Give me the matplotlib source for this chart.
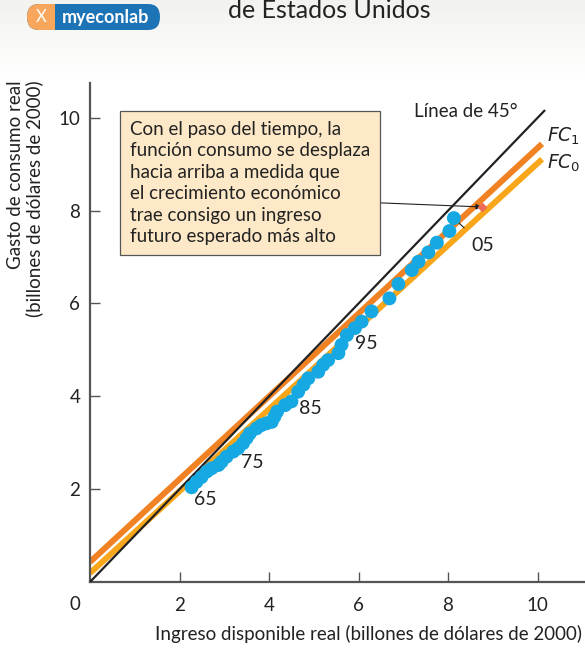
import numpy as np
import matplotlib
matplotlib.use("Agg")
import matplotlib.pyplot as plt
from matplotlib.patches import FancyBboxPatch, Rectangle

plt.rcParams['font.family'] = ['Lato', 'DejaVu Sans']

# ingreso disponible real vs gasto de consumo real, 1965-2005 (billones de dolares de 2000)
ingreso = [2.27, 2.38, 2.49, 2.61, 2.72, 2.87, 2.94, 3.05, 3.20, 3.31, 3.42, 3.50, 3.57, 3.72,
           3.83, 3.95, 4.06, 4.12, 4.18, 4.36, 4.50, 4.65, 4.77, 4.88, 5.10, 5.21, 5.32, 5.55,
           5.62, 5.74, 5.92, 6.07, 6.29, 6.69, 6.89, 7.19, 7.34, 7.56, 7.75, 8.03, 8.13]
consumo = [2.04, 2.16, 2.26, 2.38, 2.45, 2.52, 2.59, 2.70, 2.81, 2.88, 2.99, 3.10, 3.20, 3.31,
           3.38, 3.42, 3.45, 3.56, 3.67, 3.81, 3.89, 4.10, 4.25, 4.39, 4.53, 4.68, 4.78, 4.93,
           5.11, 5.32, 5.47, 5.61, 5.83, 6.11, 6.42, 6.72, 6.90, 7.10, 7.31, 7.56, 7.84]
anios = list(range(1965, 2006))
etiquetas_anio = ["65", "75", "85", "95", "05"]

# funciones consumo (intercepto, pendiente) y linea de 45 grados
fc0 = (0.19, 0.883)
fc1 = (0.43, 0.892)
x_fc = [0, 10.1]
x_45 = [0, 10.15]

xticks = [2, 4, 6, 8, 10]
yticks = [2, 4, 6, 8, 10]

texto_caja = ("Con el paso del tiempo, la\nfunción consumo se desplaza\nhacia arriba a medida que\n"
              "el crecimiento económico\ntrae consigo un ingreso\nfuturo esperado más alto")

fig = plt.figure(figsize=(5.85, 6.48), dpi=100)

# banda gris de cabecera
hdr = fig.add_axes([0, 1 - 75 / 648, 1, 75 / 648])
grad = np.linspace(0, 1, 50).reshape(-1, 1)
hdr.imshow(grad, aspect='auto', cmap=matplotlib.colors.LinearSegmentedColormap.from_list(
    'g', ['#f2f2ee', '#ffffff']), extent=[0, 1, 0, 1])
hdr.axis('off')

# logo myeconlab
fig.patches.append(FancyBboxPatch((27 / 585, 1 - 30 / 648), 133 / 585, 26 / 648,
                                  boxstyle="round,pad=0,rounding_size=0.02",
                                  transform=fig.transFigure, fc='#1c74b6', ec='none'))
fig.patches.append(FancyBboxPatch((27 / 585, 1 - 30 / 648), 28 / 585, 26 / 648,
                                  boxstyle="round,pad=0,rounding_size=0.02",
                                  transform=fig.transFigure, fc='#f7a65c', ec='none'))
fig.patches.append(Rectangle((45 / 585, 1 - 30 / 648), 10 / 585, 26 / 648,
                             transform=fig.transFigure, fc='#f7a65c', ec='none'))
fig.text(41 / 585, 1 - 17 / 648, "X", color='white', fontsize=12, ha='center', va='center')
fig.text(106 / 585, 1 - 17 / 648, "myeconlab", color='white', fontsize=13, fontweight='bold',
         ha='center', va='center')
fig.text(228 / 585, 1 - 10 / 648, "de Estados Unidos", fontsize=18, color='#222222',
         ha='left', va='center')

ax = fig.add_axes([90 / 585, 1 - 582 / 648, 495 / 585, 499 / 648])
ax.set_xlim(0, 11.06)
ax.set_ylim(0, 10.75)

xf = np.array(x_fc)
ax.plot(xf, fc0[0] + fc0[1] * xf, color='#f9a61a', lw=4.3, solid_capstyle='butt', zorder=2)
ax.plot(xf, fc1[0] + fc1[1] * xf, color='#f08224', lw=4.3, solid_capstyle='butt', zorder=2)
ax.plot(x_45, x_45, color='#222222', lw=1.6, zorder=3)
ax.scatter(ingreso, consumo, s=100, color='#16a8e2', edgecolors='none', zorder=5)

# etiquetas de anios
offs = {"65": (10, -9), "75": (7, -14), "85": (14, -5), "95": (8, -11)}
for lab in etiquetas_anio[:-1]:
    i = anios.index(int("19" + lab))
    ax.annotate(lab, xy=(ingreso[i], consumo[i]), xytext=offs[lab], textcoords='offset points',
                fontsize=14, color='#222222', ha='center', va='center', zorder=6)
i = anios.index(2005)
ax.annotate("05", xy=(ingreso[i], consumo[i]), xytext=(21, -20), textcoords='offset points',
            fontsize=14, color='#222222', ha='center', va='center',
            arrowprops=dict(arrowstyle='-', color='#222222', lw=0.8, shrinkA=7, shrinkB=3))

ax.text(9.56, 10.13, "Línea de 45°", fontsize=13.5, ha='right', va='center', color='#222222')
ax.text(10.21, 9.61, r"$\mathit{FC}_1$", fontsize=13.5, ha='left', va='center', color='#222222')
ax.text(10.21, 9.01, r"$\mathit{FC}_0$", fontsize=13.5, ha='left', va='center', color='#222222')

# caja de texto con linea hacia FC1
ax.annotate("", xy=(8.75, 8.08), xytext=(6.42, 8.17),
            arrowprops=dict(arrowstyle='-|>', color='#222222', lw=0.8, mutation_scale=8,
                            shrinkA=0, shrinkB=0), zorder=6)
ax.plot([8.75], [8.08], marker='D', ms=4, color='#f06a5a', zorder=7)
ax.text(0.89, 9.94, texto_caja, fontsize=13.5, linespacing=1.32, ha='left', va='top',
        color='#222222', zorder=8,
        bbox=dict(boxstyle='square,pad=0.53', fc='#fde9c8', ec='#555555', lw=0.9))

for s in ['top', 'right']:
    ax.spines[s].set_visible(False)
for s in ['left', 'bottom']:
    ax.spines[s].set_color('#555555')
    ax.spines[s].set_linewidth(1.6)
ax.set_xticks(xticks)
ax.set_yticks(yticks)
ax.tick_params(direction='in', length=7, width=1, color='#555555', labelsize=13.5,
               labelcolor='#222222')
ax.tick_params(axis='x', pad=11)
ax.tick_params(axis='y', pad=7)
ax.annotate("0", xy=(0, 0), xytext=(-11, -16), textcoords='offset points', fontsize=13.5,
            ha='center', va='center', color='#222222', annotation_clip=False)

fig.text(582 / 585, 1 - 634 / 648, "Ingreso disponible real (billones de dólares de 2000)",
         fontsize=13.5, ha='right', va='center', color='#222222')
fig.text(25 / 585, 1 - 80 / 648, "Gasto de consumo real\n(billones de dólares de 2000)",
         fontsize=13.5, rotation=90, ha='center', va='top', multialignment='right',
         linespacing=1.05, color='#222222')

fig.savefig("out.png", dpi=100)
